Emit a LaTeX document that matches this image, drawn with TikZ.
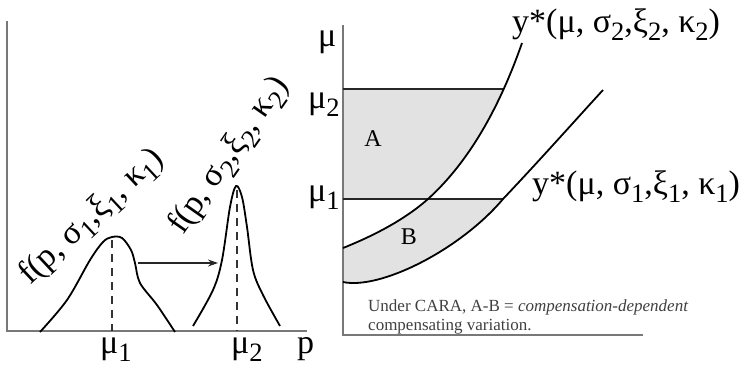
\documentclass[tikz,border=0pt]{standalone}
\usepackage{fontspec}
\usepackage{graphicx}
\setmainfont{Liberation Serif}
\usetikzlibrary{arrows.meta}
\newcommand\lo[1]{\raisebox{-.25em}{\scalebox{.78}{#1}}}
\definecolor{areagray}{RGB}{226,226,226}
\definecolor{axisgray}{RGB}{120,120,120}
\tikzset{
  axisline/.style={draw=axisgray, line width=1.3pt},
  curveline/.style={draw=black, line width=1.8pt},
  levelline/.style={draw=black!85, line width=2.4pt},
  dashline/.style={draw=black!80, line width=1.2pt, dash pattern=on 8pt off 6pt},
  biglabel/.style={font=\fontsize{34}{36}\selectfont, inner sep=0pt},
  arealabel/.style={font=\fontsize{24}{26}\selectfont, inner sep=0pt},
  notelabel/.style={font=\fontsize{17}{19}\selectfont, inner sep=0pt, text=black!75, align=left}
}
\begin{document}
\begin{tikzpicture}[x=1pt, y=-1pt]
\useasboundingbox (0,0) rectangle (745,368);

% ---------------- left panel ----------------
\coordinate (lo) at (7,331);
\coordinate (ltop) at (7,21);
\coordinate (lright) at (307,331);
\draw[axisline] (ltop) -- (lo) -- (lright);

\draw[curveline] plot[smooth, tension=0.55] coordinates {(40,332) (67,300) (90,260) (103,242) (112,237) (122,238) (131,250) (135,263) (140,283) (157,305) (175,332)};
\draw[curveline] plot[smooth, tension=0.55] coordinates {(193,326) (213,290) (222,260) (230,207) (236,186) (242,197) (247,227) (253,270) (263,295) (280,326)};

\coordinate (d1t) at (112,240); \coordinate (d1b) at (112,331);
\coordinate (d2t) at (237,190); \coordinate (d2b) at (237,331);
\draw[dashline] (d1t) -- (d1b);
\draw[dashline] (d2t) -- (d2b);

\coordinate (as) at (138,263); \coordinate (ae) at (218,263);
\draw[black!85, line width=1.2pt, -{Stealth[length=10pt,width=7pt]}] (as) -- (ae);

\node[biglabel, anchor=base west] (lmu1) at (100,353) {μ\lo{1}};
\node[biglabel, anchor=base west] (lmu2) at (231,353) {μ\lo{2}};
\node[biglabel, anchor=base west] (lp) at (297,353) {p};

\node[biglabel, anchor=base west, rotate=43] (f1) at (30,286) {f(p, σ\lo{1},ξ\lo{1}, κ\lo{1})};
\node[biglabel, anchor=base west, rotate=55] (f2) at (183,236) {f(p, σ\lo{2},ξ\lo{2}, κ\lo{2})};

% ---------------- right panel ----------------
\begin{scope}
  \clip (343,89) rectangle (700,199);
  \fill[areagray] (343,30) -- (522,43) .. controls (494,123) and (460,170) .. (428,199)
     .. controls (410,215) and (383,232) .. (343,248) -- cycle;
\end{scope}
\begin{scope}
  \clip (343,199) rectangle (700,300);
  \fill[areagray] (343,248) .. controls (383,232) and (410,215) .. (428,199)
     .. controls (460,170) and (494,123) .. (522,43)
     -- (603,90) .. controls (580,115) and (540,160) .. (503,199)
     .. controls (460,250) and (380,290) .. (343,282) -- cycle;
\end{scope}

\coordinate (ro) at (343,335);
\coordinate (rtop) at (343,25);
\coordinate (rright) at (643,335);
\draw[axisline] (rtop) -- (ro) -- (rright);

\coordinate (m2a) at (343,89); \coordinate (m2b) at (503,89);
\coordinate (m1a) at (343,199); \coordinate (m1b) at (503,199);
\draw[levelline] (m2a) -- (m2b);
\draw[levelline] (m1a) -- (m1b);

\draw[curveline] (343,248) .. controls (383,232) and (410,215) .. (428,199)
     .. controls (460,170) and (494,123) .. (522,43);
\draw[curveline] (343,282) .. controls (380,290) and (460,250) .. (503,199)
     .. controls (540,160) and (580,115) .. (603,90);

\node[biglabel, anchor=base west] (rmu) at (318,46) {μ};
\node[biglabel, anchor=base west] (rmu2) at (308,108) {μ\lo{2}};
\node[biglabel, anchor=base west] (rmu1) at (308,201) {μ\lo{1}};

\node[arealabel] (A) at (373,139) {A};
\node[arealabel] (B) at (409,237) {B};

\node[biglabel, anchor=base west] (y2) at (512,32) {y*(μ, σ\lo{2},ξ\lo{2}, κ\lo{2})};
\node[biglabel, anchor=base west] (y1) at (532,194) {y*(μ, σ\lo{1},ξ\lo{1}, κ\lo{1})};

\node[notelabel, anchor=base west] (note1) at (368,311) {Under CARA, A-B = \textit{compensation-dependent}};
\node[notelabel, anchor=base west] (note2) at (368,330) {compensating variation.};
\end{tikzpicture}
\end{document}
